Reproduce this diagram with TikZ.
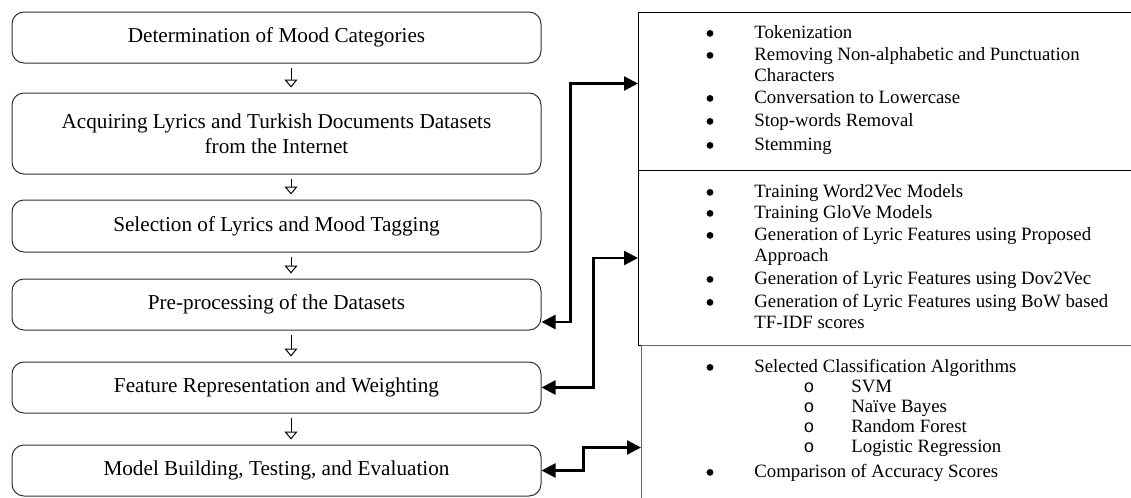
\documentclass[tikz,border=0pt]{standalone}
\usepackage{fontspec}
\setmainfont{Liberation Serif}
\setmonofont{Liberation Mono}
\usetikzlibrary{arrows.meta}

\begin{document}
\begin{tikzpicture}[x=0.5pt,y=-0.5pt,
  stage/.style={draw=black!80,line width=0.5pt,rounded corners=6pt,minimum width=264.5pt,
    inner sep=0pt,align=center,font=\fontsize{10.6}{12.5}\selectfont},
  panel/.style={draw,line width=0.5pt,anchor=north west,inner sep=0pt,minimum width=290pt},
  entry/.style={anchor=west,inner sep=0pt,text height=0.7em,text depth=0.25em,
    font=\fontsize{9.4}{10.5}\selectfont},
  dot/.style={circle,fill,inner sep=0pt,minimum size=3.4pt,yshift=0.3pt},
  nextstep/.style={line width=0.5pt,-{Triangle[open,length=4pt,width=6.5pt]},
    shorten <=2pt,shorten >=2.5pt},
  link/.style={line width=1.2pt,{Triangle[length=7pt,width=7pt]}-{Triangle[length=7pt,width=7pt]}}]
  \clip (0,0) rectangle (1131,498);

  \node[stage,minimum height=25.5pt] (mood) at (276.5,37.5) {Determination of Mood Categories};
  \node[stage,minimum height=40.5pt] (acquire) at (276.5,133.5)
    {Acquiring Lyrics and Turkish Documents Datasets\\from the Internet};
  \node[stage,minimum height=26pt] (tagging) at (276.5,226) {Selection of Lyrics and Mood Tagging};
  \node[stage,minimum height=25.5pt] (preproc) at (276.5,304.5) {Pre-processing of the Datasets};
  \node[stage,minimum height=25.5pt] (features) at (276.5,387.5) {Feature Representation and Weighting};
  \node[stage,minimum height=25.5pt] (models) at (276.5,470.5) {Model Building, Testing, and Evaluation};

  \foreach \a/\b in {mood/acquire,acquire/tagging,tagging/preproc,preproc/features,features/models}
    \draw[nextstep] ([xshift=7.25pt]\a.south) -- ([xshift=7.25pt]\b.north);

  \node[panel,minimum height=79pt] (prepbox) at (638,12) {};
  \node[panel,minimum height=87.5pt] (featbox) at (638,170) {};
  \node[panel,draw=black!60,minimum height=110pt] (modelbox) at (641,345) {};

  \draw[link] ([yshift=-8.75pt]preproc.east) -- ++(29,0) |- ([yshift=4pt]prepbox.west);
  \draw[link] (features.east) -- ++(52,0) |- (featbox.west);
  \draw[link] (models.east) -- ++(42,0) |- ([yshift=4pt]modelbox.west);

  \foreach \y/\t [count=\i] in {34/Tokenization,56/Removing Non-alphabetic and Punctuation,
      77/Characters,99/Conversation to Lowercase,122/Stop-words Removal,146/Stemming,
      193/Training Word2Vec Models,214/Training GloVe Models,
      236/Generation of Lyric Features using Proposed,257/Approach,
      280/Generation of Lyric Features using Dov2Vec,
      303/Generation of Lyric Features using BoW based,324/TF-IDF scores,
      368/Selected Classification Algorithms,473/Comparison of Accuracy Scores}
    \node[entry] (line\i) at (754,\y) {\t};
  \foreach \y [count=\i] in {34,56,99,122,146,193,214,236,280,303,368,473}
    \node[dot] (dot\i) at (710,\y) {};
  \foreach \y/\t [count=\i] in {388/SVM,408/Naïve Bayes,428/Random Forest,448/Logistic Regression} {
    \node[entry,anchor=center,font=\fontsize{9}{9}\ttfamily] (ring\i) at (809,\y) {o};
    \node[entry] (algo\i) at (851,\y) {\t};
  }
\end{tikzpicture}
\end{document}
